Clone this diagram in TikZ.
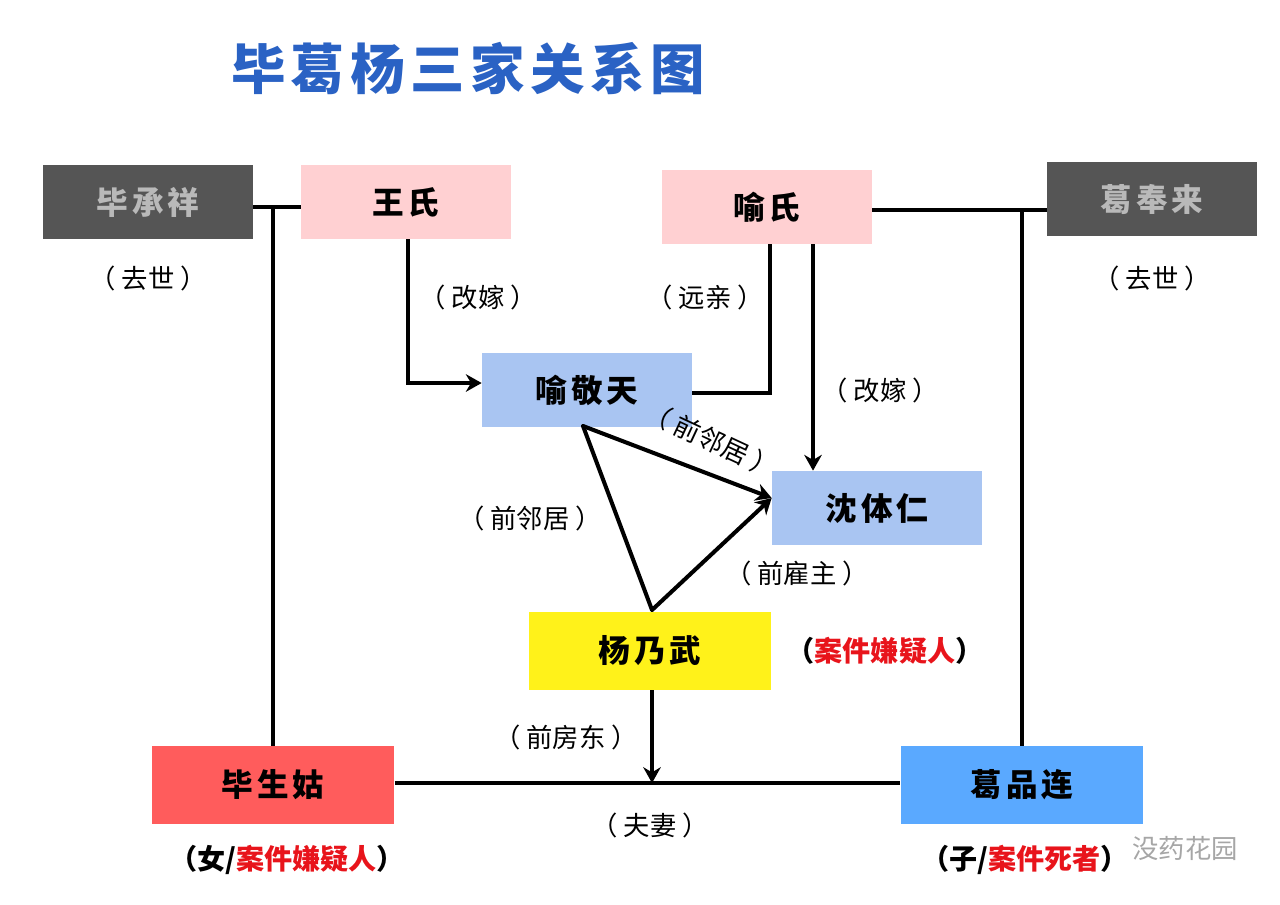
\documentclass[tikz,border=0pt]{standalone}
\usepackage{fontspec}
\setmainfont{Noto Sans CJK SC}
\usetikzlibrary{arrows.meta,positioning}
\definecolor{titleblue}{HTML}{2A62C4}
\definecolor{deadgray}{HTML}{555555}
\definecolor{pinkbox}{HTML}{FFD0D2}
\definecolor{bluebox}{HTML}{A9C5F2}
\definecolor{yellowbox}{HTML}{FFF21A}
\definecolor{redbox}{HTML}{FF5C5C}
\definecolor{skybox}{HTML}{5AA9FF}
\definecolor{casered}{HTML}{E8141B}
\begin{document}
\begin{tikzpicture}[
  x=0.02cm, y=-0.02cm,
  >=Stealth,
  person/.style={minimum width=4.2cm, minimum height=1.48cm, inner sep=0pt, font=\fontsize{18}{20}\selectfont\bfseries\addfontfeatures{LetterSpace=12}},
  wide/.style={person, minimum width=4.86cm, minimum height=1.56cm},
  rel/.style={line width=2.3pt},
  arrow/.style={-{Stealth[length=9pt,width=10pt]}, line width=2.3pt},
  note/.style={font=\fontsize{15}{17}\selectfont},
  tag/.style={font=\fontsize{16}{18}\selectfont\bfseries}
]
\useasboundingbox (0,0) rectangle (1280,904);

% ----- TITLE -----
\node[font=\fontsize{31}{34}\selectfont\bfseries\addfontfeatures{LetterSpace=10}, text=titleblue] (title) at (468,68) {毕葛杨三家关系图};

% ----- PERSONS -----
\node[person, fill=deadgray, text=gray!55] (bcx) at (148,202) {毕承祥};
\node[person, fill=pinkbox] (wang) at (406,202) {王氏};
\node[person, fill=pinkbox] (yu) at (767,207) {喻氏};
\node[person, fill=deadgray, text=gray!55] (gfl) at (1152,199) {葛奉来};
\node[person, fill=bluebox] (yjt) at (587,390) {喻敬天};
\node[person, fill=bluebox] (sti) at (877,508) {沈体仁};
\node[wide, fill=yellowbox] (ynw) at (650,651) {杨乃武};
\node[wide, fill=redbox] (bsg) at (273,785) {毕生姑};
\node[wide, fill=skybox] (gpl) at (1022,785) {葛品连};

% ----- JUNCTIONS -----
\coordinate (jl) at (273,207);
\coordinate (jr) at (1022,210);
\coordinate (mid) at (652,783);
\coordinate (apex) at (583,426);
\coordinate (base) at (652,610);

% ----- MARRIAGES -----
\draw[rel] (bcx.east |- jl) -- (wang.west |- jl);
\draw[rel] (jl) -- (bsg.north -| jl);
\draw[rel] (yu.east |- jr) -- (gfl.west |- jr);
\draw[rel] (jr) -- (gpl.north -| jr);
\draw[rel] (bsg.east |- mid) -- (gpl.west |- mid);

% ----- RELATIONS -----
\draw[arrow] (wang.south -| 408,0) |- (yjt.west |- 0,383);
\draw[rel] (yjt.east |- 0,393) -| (yu.south -| 770,0);
\draw[arrow] (yu.south -| 813,0) -- (sti.north -| 813,0);
\draw[arrow] (apex) -- (sti.west |- 0,498);
\draw[rel, line cap=round] (apex) -- (base);
\draw[arrow] (base) -- (sti.west |- 0,498);
\draw[arrow] (ynw.south -| mid) -- (mid);

% ----- LABELS -----
\node[note] (d1) at (148,278) {（ 去世 ）};
\node[note] (d2) at (1152,278) {（ 去世 ）};
\node[note] (l1) at (478,297) {（ 改嫁 ）};
\node[note] (l2) at (705,297) {（ 远亲 ）};
\node[note] (l3) at (880,390) {（ 改嫁 ）};
\node[note, rotate=-25] (l4) at (712,440) {（ 前邻居 ）};
\node[note] (l5) at (530,518) {（ 前邻居 ）};
\node[note] (l6) at (797,573) {（ 前雇主 ）};
\node[note] (l7) at (566,737) {（ 前房东 ）};
\node[note] (l8) at (650,825) {（ 夫妻 ）};
\node[tag] (t1) at (885,651) {（\textcolor{casered}{案件嫌疑人}）};
\node[tag] (t2) at (287,860) {（女/\textcolor{casered}{案件嫌疑人}）};
\node[tag] (t3) at (1025,860) {（子/\textcolor{casered}{案件死者}）};
\node[note, text=gray!70] (wm) at (1185,848) {没药花园};
\end{tikzpicture}
\end{document}
